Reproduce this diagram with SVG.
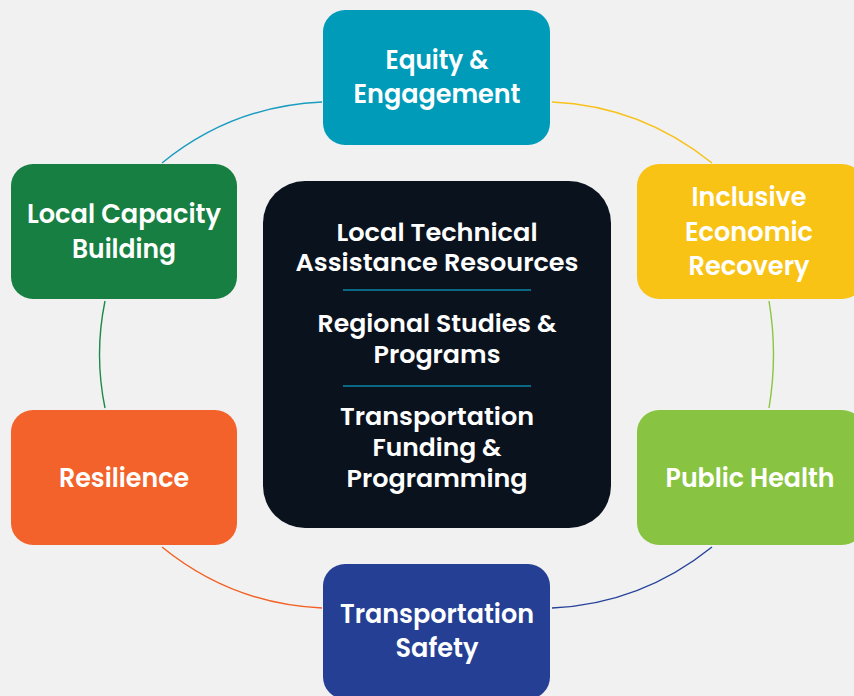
<svg xmlns="http://www.w3.org/2000/svg" width="854" height="696" viewBox="0 0 854 696">
<style>
.bg{fill:#f1f1f1}
.node{stroke:none}
.t{font-family:"Poppins","Open Sans","DejaVu Sans",sans-serif;font-weight:600;fill:#ffffff;text-anchor:middle}
.n{font-size:26px}
.c{font-size:24px}
.conn{fill:none;stroke-width:1.4}
.div{stroke:#0b86a8;stroke-width:1.4}
</style>
<rect class="bg" x="0" y="0" width="854" height="696"/>
<g id="connectors">
<path class="conn" stroke="#1a9cc0" d="M162,163 Q232,106 322,102"/>
<path class="conn" stroke="#f8c21b" d="M552,102 Q641,106 712,163"/>
<path class="conn" stroke="#1a8a45" d="M105,301 Q94,354.5 105,408"/>
<path class="conn" stroke="#8bc541" d="M769,301 Q778,354.5 769,408"/>
<path class="conn" stroke="#f26122" d="M162,547 Q232,604 322,608"/>
<path class="conn" stroke="#27429a" d="M712,547 Q641,604 552,608"/>
</g>
<g id="center">
<rect class="node" x="263" y="181" width="348" height="347" rx="42" fill="#0a121e"/>
<text class="t c" x="437" y="241" textLength="201" lengthAdjust="spacingAndGlyphs">Local Technical</text>
<text class="t c" x="437" y="271" textLength="283" lengthAdjust="spacingAndGlyphs">Assistance Resources</text>
<line class="div" x1="343" y1="290" x2="531" y2="290"/>
<text class="t c" x="437" y="332" textLength="239" lengthAdjust="spacingAndGlyphs">Regional Studies &amp;</text>
<text class="t c" x="437" y="363" textLength="127" lengthAdjust="spacingAndGlyphs">Programs</text>
<line class="div" x1="343" y1="386" x2="531" y2="386"/>
<text class="t c" x="437" y="425" textLength="194" lengthAdjust="spacingAndGlyphs">Transportation</text>
<text class="t c" x="437" y="456" textLength="129" lengthAdjust="spacingAndGlyphs">Funding &amp;</text>
<text class="t c" x="437" y="487" textLength="181" lengthAdjust="spacingAndGlyphs">Programming</text>
</g>
<g id="equity">
<rect class="node" x="323" y="10" width="227" height="135" rx="22" fill="#019bba"/>
<text class="t n" x="437" y="69" textLength="103" lengthAdjust="spacingAndGlyphs">Equity &amp;</text>
<text class="t n" x="437" y="103" textLength="167" lengthAdjust="spacingAndGlyphs">Engagement</text>
</g>
<g id="local-capacity">
<rect class="node" x="11" y="164" width="226" height="135" rx="22" fill="#177f41"/>
<text class="t n" x="124" y="223" textLength="194" lengthAdjust="spacingAndGlyphs">Local Capacity</text>
<text class="t n" x="124" y="258" textLength="104" lengthAdjust="spacingAndGlyphs">Building</text>
</g>
<g id="inclusive">
<rect class="node" x="637" y="164" width="227" height="135" rx="22" fill="#f9c316"/>
<text class="t n" x="749" y="206" textLength="115" lengthAdjust="spacingAndGlyphs">Inclusive</text>
<text class="t n" x="749" y="241" textLength="128" lengthAdjust="spacingAndGlyphs">Economic</text>
<text class="t n" x="749" y="275" textLength="121" lengthAdjust="spacingAndGlyphs">Recovery</text>
</g>
<g id="resilience">
<rect class="node" x="11" y="410" width="226" height="135" rx="22" fill="#f3622a"/>
<text class="t n" x="124" y="487" textLength="130" lengthAdjust="spacingAndGlyphs">Resilience</text>
</g>
<g id="public-health">
<rect class="node" x="637" y="410" width="227" height="135" rx="22" fill="#88c441"/>
<text class="t n" x="750" y="487" textLength="169" lengthAdjust="spacingAndGlyphs">Public Health</text>
</g>
<g id="safety">
<rect class="node" x="323" y="564" width="227" height="135" rx="22" fill="#253f95"/>
<text class="t n" x="437" y="623" textLength="194" lengthAdjust="spacingAndGlyphs">Transportation</text>
<text class="t n" x="437" y="657" textLength="83" lengthAdjust="spacingAndGlyphs">Safety</text>
</g>
</svg>
